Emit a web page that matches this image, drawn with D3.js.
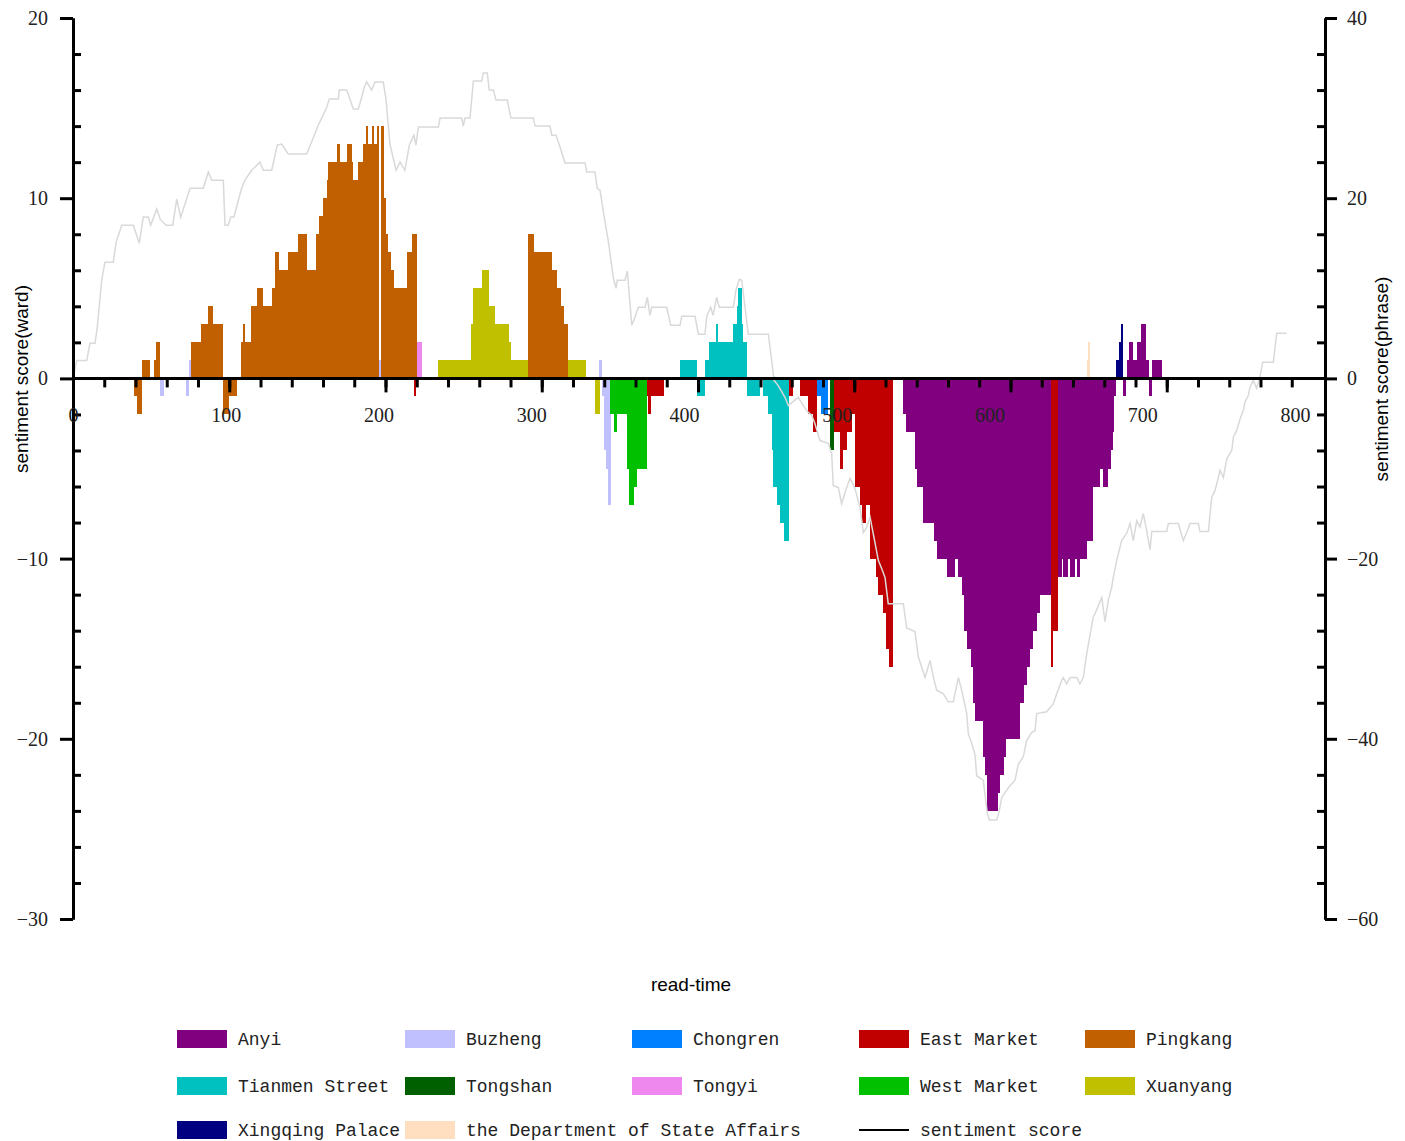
<!DOCTYPE html>
<html>
<head>
<meta charset="utf-8">
<script src="https://cdn.jsdelivr.net/npm/d3@7"></script>
<style>
  body { margin: 0; background: #fff; }
  .axis path, .axis line { stroke: #000; stroke-width: 3; }
  .axis text { font-family: "Liberation Serif", serif; font-size: 20px; fill: #222; }
  .title { font-family: "Liberation Sans", Arial, sans-serif; font-size: 19px; fill: #000; }
  .legend text { font-family: "Liberation Mono", monospace; font-size: 18px; fill: #222; }
</style>
</head>
<body>
<div id="chart"></div>
<script>
// ward bars: [read-time from, read-time to, sentiment score]
var pingkang = [[40,42,-1],[42,45.4,-2],[45.4,50.4,1],[53,54.3,1],[54.3,57,2],
  [77,84,2],[84,88.6,3],[88.6,91.4,4],[91.4,98.4,3],[98.4,102.3,-2],[102.3,107.6,-1],
  [109.8,111.1,2],[111.1,112.6,3],[112.6,116.3,2],[116.3,120.7,4],[120.7,124.6,5],[124.6,130.5,4],
  [130.5,132.3,5],[132.3,135.1,7],[135.1,140.5,6],[140.5,147.5,7],[147.5,152.9,8],[152.9,158.9,6],
  [158.9,161.3,8],[161.3,163.9,9],[163.9,166.1,10],[166.1,167.2,11],[167.2,172.6,12],[172.6,174.8,13],
  [174.8,179.6,12],[179.6,182.5,13],[182.5,183.6,12],[183.6,186.8,11],[186.8,190.1,12],[190.1,191.8,13],
  [191.8,193.4,14],[193.4,195.5,13],[195.5,197.1,14],[197.1,198.8,13],[198.8,200.6,14],[201.4,203.6,14],
  [203.6,205,10],[205,206.5,8],[206.5,208,7],[208,210,6],[210,218.9,5],[218.9,221.7,7],[221.7,225.3,8],
  [298.1,302.1,8],[302.1,313.4,7],[313.4,317.1,6],[317.1,319.5,5],[319.5,321.7,4],[321.7,324.3,3]];
var buzheng = [[57,59.6,-1],[74,76,-1],[76,77,1],[200.6,201.4,1],[344.4,346.1,1],
  [346.1,347.6,-1],[347.6,348.9,-4],[348.9,350.5,-5],[350.5,352.2,-7]];
var tongyi = [[225.3,228.3,2]];
var xuanyang = [[239,260.3,1],[260.3,261.6,3],[261.6,267.5,5],[267.5,272.3,6],[272.3,276.3,4],
  [276.3,285.6,3],[285.6,286.7,2],[286.7,298.1,1],[324.3,335.9,1],[341.7,345,-2]];
var westMarket = [[351.5,354.2,-2],[354.2,355.9,-3],[355.9,362.5,-2],[362.5,364,-5],[364,367,-7],
  [367,369.5,-6],[369.5,375.6,-5]];
var eastMarket = [[223.1,224.3,-1],[375.6,376.6,-1],[376.6,378.3,-2],[378.3,386.9,-1],[468.8,471.4,-1],
  [475.9,481.3,-1],[481.3,484.3,-2],[484.3,487.3,-3],
  [498.2,502.1,-3],[502.1,504.3,-5],[504.3,506.9,-4],[506.9,509.8,-3],[509.8,512,-2],[512,515.2,-6],
  [515.2,516.3,-7],[516.3,519.1,-8],[519.1,521.8,-7],[521.8,525.7,-10],[525.7,527.2,-11],[527.2,530.1,-12],
  [530.1,532.2,-13],[532.2,534.4,-15],[534.4,537,-16],[640.1,641.6,-16],[641.6,645,-14]];
var tianmen = [[397.4,408.3,1],[408.3,413.7,-1],[413.7,416.6,1],[416.6,420.9,2],[420.9,422.4,3],
  [422.4,432.3,2],[432.3,434.5,3],[434.5,435.5,4],[435.5,437.8,5],[437.8,438.8,3],[438.8,441,2],
  [441,449.6,-1],[452,455.2,-1],[455.2,457.4,-2],[457.4,458,-4],[458,460.7,-6],[460.7,462.8,-7],
  [462.8,465.5,-8],[465.5,468.8,-9]];
var chongren = [[487.3,489.4,-1],[489.4,494.5,-2]];
var tongshan = [[495.6,498.2,-4]];
var anyi = [[543.2,545.3,-2],[545.3,551.2,-3],[551.2,552.7,-5],[552.7,556.7,-6],[556.7,563.7,-8],
  [563.7,565.8,-9],[565.8,572,-10],[572,577.4,-11],[577.4,579.6,-10],[579.6,581.8,-11],[581.8,583.3,-12],
  [583.3,585.1,-14],[585.1,587.9,-15],[587.9,589,-16],[589,590.5,-18],[590.5,595.5,-19],[595.5,597,-21],
  [597,598.6,-22],[598.6,605.8,-24],[605.8,606.9,-23],[606.9,609.5,-22],[609.5,610.8,-21],[610.8,620,-20],
  [620,622.6,-18],[622.6,624.3,-17],[624.3,626.5,-16],[626.5,628.7,-15],[628.7,631.3,-14],[631.3,633,-13],
  [633,640.1,-12],[645,647.3,-11],[647.3,648.3,-10],[648.3,651.6,-11],[651.6,652.7,-10],[652.7,656,-11],
  [656,657.3,-10],[657.3,659.2,-11],[659.2,663.6,-10],[663.6,667.9,-9],[667.9,672.3,-6],[672.3,674.1,-5],
  [674.1,677.7,-6],[677.7,679.3,-5],[679.3,680.6,-4],[680.6,681.5,-3],[681.5,682.8,-1],
  [687.5,689.5,-1],[690.2,691.5,1],[691.5,693.7,2],[693.7,696.8,1],[696.8,699,2],[699,702.4,3],
  [702.4,704.5,1],[704.5,706.2,-1],[706.2,712.7,1]];
var stateAffairs = [[663.6,664.7,1],[664.7,665.8,2]];
var xingqing = [[682.8,684.9,1],[684.9,686,2],[686,687.5,3]];

// sentiment score(phrase): [read-time, score]
var phraseLine = [[0,0],[2.4,2],[9,2],[11.1,3.9],[14.4,3.9],[15.9,5.7],[18.8,10.9],[20.9,12.9],[26.4,12.9],
  [28.2,15.1],[31.9,17],[39.5,17],[43.4,15],[46,17.9],[49.3,17.9],[50.9,17],[54.8,18.8],[57,17.7],[60.9,17],
  [65.3,17],[67.9,19.9],[70.5,17.9],[74.4,19.9],[76.6,21.1],[85.3,21.1],[88.6,22.9],[90.8,22],[98.4,22],
  [99.5,17],[101.7,17],[103.2,17.9],[105.4,17.9],[106.7,18.8],[110.4,21.1],[112.6,22],[117,23.1],[122.4,24],
  [124.6,23.1],[130.1,23.1],[133.7,25.9],[136.6,26],[141,24.9],[153,24.9],[160.6,28.1],[166.1,30.1],
  [167.8,31],[173.7,31],[174.3,32],[179.2,32],[181.3,31],[183.5,29.9],[186.8,29.9],[189,31.2],[190.5,32.2],
  [192.3,32.9],[195.5,32],[197.7,32.9],[203.1,32.9],[204.9,31],[207.5,26],[211.5,23.1],[214.1,24],
  [217.3,23.1],[220.2,25.9],[223.2,27],[224.5,25.9],[226.1,27.9],[239.2,27.9],[240.3,28.9],[254.5,28.9],
  [255.5,28],[256.6,28.9],[259.9,28.9],[262.1,33],[267.6,33],[268.6,33.9],[271.2,33.9],[272.5,32],
  [275.2,32],[276.9,30.9],[284.3,30.9],[286.7,28.9],[301.3,28.9],[302.5,28],[312.3,28],[313.4,27],
  [316.2,27],[318.4,25.9],[322.1,23.9],[335.2,23.9],[336.3,22.9],[341.7,22.9],[343.2,21.1],[345,20.9],
  [347.6,18.1],[350.4,15.3],[353.7,11.2],[355.5,10],[356.3,10.9],[361.4,10.9],[362.9,11.9],[365.8,5.9],
  [367.9,6.8],[370.1,7.9],[374.5,7.9],[376,9],[377.7,7],[378.9,7.9],[388.7,7.9],[391.3,5.9],[397.4,5.9],
  [398.5,6.9],[407.2,6.9],[409.4,4.9],[413.7,4.9],[414.9,6.9],[417.5,7.9],[419,7],[421.4,9],[423.1,7.9],
  [432.3,7.9],[434,9.8],[436.2,11],[437.8,10.9],[442.1,4.9],[455.2,4.9],[457.4,2],[458.9,-0.2],
  [461.7,-0.8],[466.1,-2.1],[468.3,-3],[474.8,-2.1],[480.3,-3.6],[483.6,-4.1],[485.7,-5],[489,-6.9],
  [494.5,-7.2],[496.7,-8.4],[497.7,-11.9],[501,-12.1],[503.2,-13.9],[506.5,-12.1],[508.7,-11.1],
  [511.9,-12.2],[515.2,-14.3],[517.4,-17.1],[519.6,-16.5],[521.8,-15.4],[525,-18.2],[527.2,-20.2],
  [529.4,-21.1],[531.6,-22.1],[533.7,-25],[543.6,-25],[545.8,-27.7],[551.2,-28.1],[553.4,-30.9],
  [557.8,-33.2],[561.1,-31.3],[563.2,-33.1],[565.4,-34.6],[569.8,-35],[573,-35.9],[576.3,-35.9],
  [579.6,-33.2],[581.8,-34.6],[585.1,-37.2],[586.1,-39.4],[588.3,-40.5],[590.5,-41.7],[591.6,-44.1],
  [595.9,-44.6],[598.6,-48.3],[599.9,-49],[604.7,-49],[606.4,-48],[608,-46.5],[613.4,-45.2],[616.7,-44.6],
  [618.9,-42.8],[622.1,-42],[624.3,-40.2],[627.6,-39.3],[629.8,-39.1],[630.9,-37.2],[637.4,-37],
  [641.8,-36.1],[644,-35],[647.3,-33.5],[648.3,-33.2],[650.5,-33.9],[652.7,-33.2],[657.1,-33.2],
  [659.2,-33.9],[661.4,-33.2],[663.6,-30.6],[667.9,-26.5],[669.1,-26.1],[673.5,-24.3],[675.6,-27],
  [677.8,-24.6],[680,-23.2],[681,-22.1],[683.3,-20.2],[686.5,-18],[689.8,-17.2],[692,-16.1],[694.1,-18],
  [696.4,-15.8],[698.5,-16.5],[700.7,-15],[702.9,-16.9],[705.1,-19],[706.2,-17],[716,-17],[717.1,-16.1],
  [723.6,-16.1],[726.9,-18],[729.1,-17.1],[731.3,-16.1],[736.7,-16.1],[737.8,-17],[743.3,-17],[744.4,-15],
  [745.5,-13.2],[747.7,-12.4],[751,-10.2],[753.1,-11],[755.4,-8.9],[758.6,-8],[759.7,-6.5],[761.8,-5.8],
  [764,-4.5],[766.1,-3.6],[767.3,-2.6],[769.4,-1.9],[770.5,-1],[772.7,-0.2],[774.9,-1.1],[777,0.1],
  [778.9,1.8],[785.8,1.8],[788,5],[794.5,5]];

var leftTicks = [-30, -20, -10, 0, 10, 20];
var rightTicks = [-60, -40, -20, 0, 20, 40];
var xLabels = [0, 100, 200, 300, 400, 500, 600, 700, 800];

var wards = [
  {name: "Anyi", color: "#800080", segs: anyi},
  {name: "Buzheng", color: "#c0c0ff", segs: buzheng},
  {name: "Chongren", color: "#0080ff", segs: chongren},
  {name: "East Market", color: "#c00000", segs: eastMarket},
  {name: "Pingkang", color: "#c06000", segs: pingkang},
  {name: "Tianmen Street", color: "#00c0c0", segs: tianmen},
  {name: "Tongshan", color: "#006000", segs: tongshan},
  {name: "Tongyi", color: "#ee88ee", segs: tongyi},
  {name: "West Market", color: "#00c000", segs: westMarket},
  {name: "Xuanyang", color: "#c0c000", segs: xuanyang},
  {name: "Xingqing Palace", color: "#000080", segs: xingqing},
  {name: "the Department of State Affairs", color: "#ffdfbf", segs: stateAffairs}
];

var width = 1405, height = 1141;
var svg = d3.select("#chart").append("svg")
  .attr("width", width).attr("height", height);

var x = d3.scaleLinear().domain([0, 800]).range([73, 1295]);
var xTick = d3.scaleLinear().domain([0, 800]).range([73, 1323]);
var yL = d3.scaleLinear().domain([-30, 20]).range([919, 18]);
var yR = d3.scaleLinear().domain([-60, 40]).range([919, 18]);

// bars
var bars = [];
wards.forEach(function(w) {
  w.segs.forEach(function(s) { bars.push({from: s[0], to: s[1], v: s[2], color: w.color}); });
});
svg.append("g").selectAll("rect")
  .data(bars)
  .enter().append("rect")
  .attr("x", function(d) { return x(d.from); })
  .attr("width", function(d) { return Math.max(1, x(d.to) - x(d.from)); })
  .attr("y", function(d) { return yL(Math.max(0, d.v)); })
  .attr("height", function(d) { return Math.abs(yL(d.v) - yL(0)); })
  .attr("fill", function(d) { return d.color; })
  .attr("shape-rendering", "crispEdges");

// phrase line
var line = d3.line()
  .x(function(d) { return x(d[0]); })
  .y(function(d) { return yR(d[1]); });
svg.append("path")
  .datum(phraseLine)
  .attr("d", line)
  .attr("fill", "none")
  .attr("stroke", "#d9d9d9")
  .attr("stroke-width", 1.5);

// left axis
svg.append("g").attr("class", "axis")
  .attr("transform", "translate(73,0)")
  .call(d3.axisLeft(yL).tickValues(leftTicks).tickSize(13).tickSizeOuter(0).tickPadding(12));
svg.append("g").attr("class", "axis")
  .attr("transform", "translate(73,0)")
  .call(d3.axisRight(yL).tickValues(d3.range(-30, 21, 2).filter(function(v) { return v % 10 !== 0; }))
    .tickSize(8).tickSizeOuter(0).tickFormat(""));

// right axis
svg.append("g").attr("class", "axis")
  .attr("transform", "translate(1325,0)")
  .call(d3.axisRight(yR).tickValues(rightTicks).tickSize(12).tickSizeOuter(0).tickPadding(10));
svg.append("g").attr("class", "axis")
  .attr("transform", "translate(1325,0)")
  .call(d3.axisLeft(yR).tickValues(d3.range(-60, 41, 4).filter(function(v) { return v % 20 !== 0; }))
    .tickSize(8).tickSizeOuter(0).tickFormat(""));

// x axis at zero
svg.append("line")
  .attr("x1", 73).attr("x2", 1325)
  .attr("y1", yL(0)).attr("y2", yL(0))
  .attr("stroke", "#000").attr("stroke-width", 3);
var xMinor = svg.append("g").attr("class", "axis")
  .attr("transform", "translate(0," + yL(0) + ")")
  .call(d3.axisBottom(xTick).tickValues(d3.range(20, 800, 20)).tickSize(9).tickFormat(""));
xMinor.select(".domain").remove();
var xMajor = svg.append("g").attr("class", "axis")
  .attr("transform", "translate(0," + yL(0) + ")")
  .call(d3.axisBottom(xTick).tickValues(d3.range(100, 800, 100)).tickSize(14).tickFormat(""));
xMajor.select(".domain").remove();
var xLab = svg.append("g").attr("class", "axis")
  .attr("transform", "translate(0," + yL(0) + ")")
  .call(d3.axisBottom(x).tickValues(xLabels).tickSize(0).tickPadding(29));
xLab.select(".domain").remove();

// titles
svg.append("text").attr("class", "title")
  .attr("transform", "translate(28,379) rotate(-90)")
  .attr("text-anchor", "middle")
  .text("sentiment score(ward)");
svg.append("text").attr("class", "title")
  .attr("transform", "translate(1388,379) rotate(-90)")
  .attr("text-anchor", "middle")
  .text("sentiment score(phrase)");
svg.append("text").attr("class", "title")
  .attr("x", 691).attr("y", 991)
  .attr("text-anchor", "middle")
  .text("read-time");

// legend: 5 columns, sentiment line sits in the 4th column of the last row
var colX = [177, 405, 632, 859, 1085];
var rowY = [1039, 1086, 1130];
var legend = svg.append("g").attr("class", "legend");
var items = wards.map(function(w, i) {
  return {name: w.name, color: w.color, type: "rect", col: i % 5, row: Math.floor(i / 5)};
});
items.push({name: "sentiment score", color: "#000", type: "line", col: 3, row: 2});
items.forEach(function(d) {
  var cx = colX[d.col], cy = rowY[d.row];
  if (d.type === "rect") {
    legend.append("rect")
      .attr("x", cx).attr("y", cy - 9)
      .attr("width", 50).attr("height", 18)
      .attr("fill", d.color);
  } else {
    legend.append("line")
      .attr("x1", cx).attr("x2", cx + 50)
      .attr("y1", cy).attr("y2", cy)
      .attr("stroke", d.color).attr("stroke-width", 2);
  }
  legend.append("text")
    .attr("x", cx + 61).attr("y", cy + 6)
    .text(d.name);
});
</script>
</body>
</html>
